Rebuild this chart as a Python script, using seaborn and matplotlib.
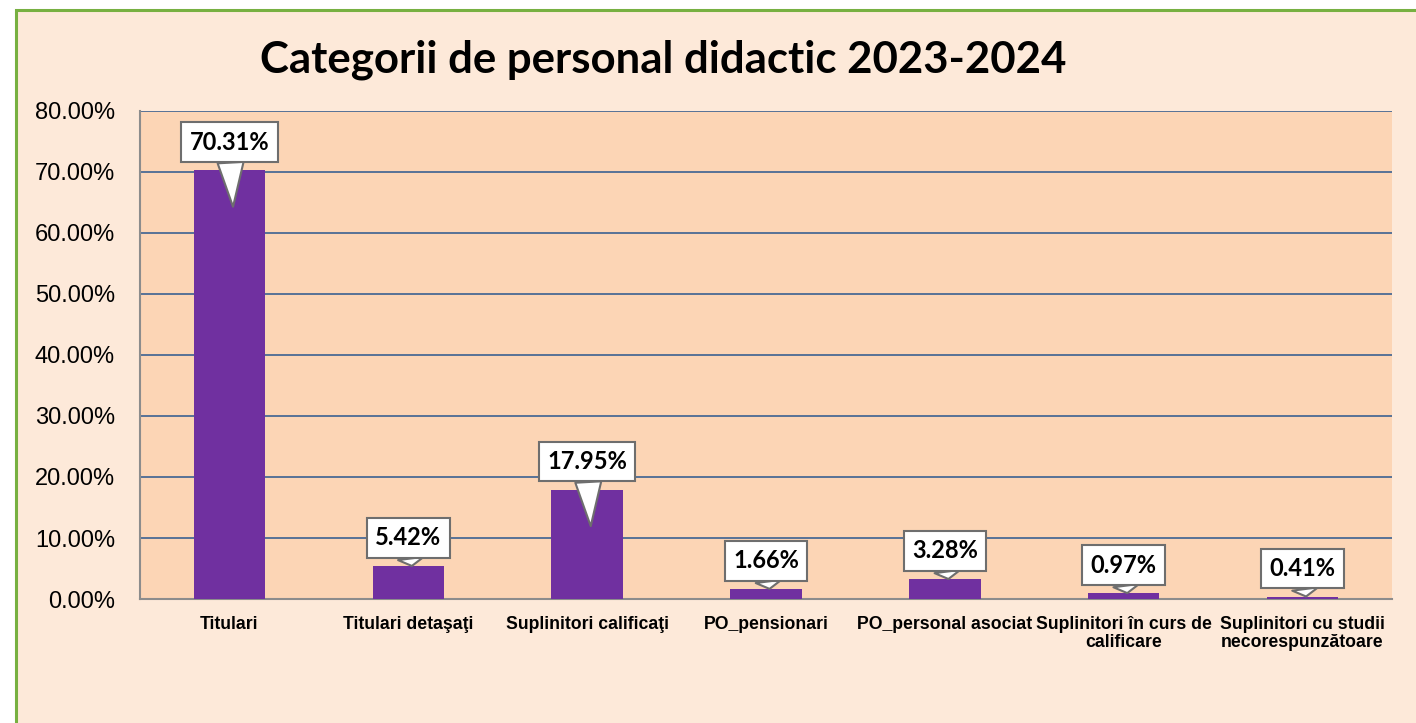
import matplotlib
matplotlib.use("Agg")
import matplotlib.pyplot as plt
from matplotlib.patches import Rectangle
from matplotlib.ticker import FuncFormatter, FixedLocator
import seaborn as sns
import numpy as np

categories = [
    "Titulari",
    "Titulari detaşaţi",
    "Suplinitori calificaţi",
    "PO_pensionari",
    "PO_personal asociat",
    "Suplinitori în curs de\ncalificare",
    "Suplinitori cu studii\nnecorespunzătoare",
]
values = [70.31, 5.42, 17.95, 1.66, 3.28, 0.97, 0.41]
labels = ["70.31%", "5.42%", "17.95%", "1.66%", "3.28%", "0.97%", "0.41%"]
y_ticks = [0, 10, 20, 30, 40, 50, 60, 70, 80]
title = "Categorii de personal didactic 2023-2024"

# how far the callout pointer reaches into the bar (data units)
tip_drop = [6.0, 0, 6.0, 0, 0, 0, 0]

sns.set_style("white")
plt.rcParams['font.family'] = ['Liberation Sans', 'DejaVu Sans']
plt.rcParams['text.color'] = 'black'
plt.rcParams['xtick.color'] = 'black'
plt.rcParams['ytick.color'] = 'black'

fig = plt.figure(figsize=(14.16, 7.23), dpi=100, facecolor="white")
fig.patches.append(Rectangle((0.0113, -0.05), 1.1, 1.036, transform=fig.transFigure,
                             facecolor="#FDE9D9", edgecolor="#77B041", lw=2.2, zorder=-5))

ax = fig.add_axes([0.0989, 0.1715, 0.8841, 0.675])
ax.set_facecolor("#FCD5B5")

sns.barplot(x=categories, y=values, color="#7030A0", saturation=1, width=0.4, ax=ax,
            zorder=3, linewidth=0)

ax.set_ylim(0, 80)
ax.set_xlim(-0.5, len(categories) - 0.5)
ax.set_yticks(y_ticks)
ax.yaxis.set_major_formatter(FuncFormatter(lambda v, p: f"{v:.2f}%"))
ax.grid(axis="y", color="#4A6A94", lw=1.3, zorder=1)
ax.set_axisbelow(True)

for s in ["top", "right"]:
    ax.spines[s].set_visible(False)
for s in ["left", "bottom"]:
    ax.spines[s].set_color("#8C8C8C")
    ax.spines[s].set_linewidth(1.5)

ax.tick_params(axis="y", length=6, width=1.5, color="#8C8C8C", labelsize=17, pad=12)
ax.tick_params(axis="x", which="major", length=0, labelsize=12.7, pad=12)
ax.xaxis.set_minor_locator(FixedLocator(np.arange(-0.5, len(categories), 1.0)))
ax.tick_params(axis="x", which="minor", length=6, width=1.5, color="#8C8C8C")
for t in ax.get_xticklabels():
    t.set_fontweight("bold")
    t.set_linespacing(1.1)
ax.set_xlabel("")
ax.set_ylabel("")

# place each callout box a fixed number of pixels above its bar
to_data = ax.transData.inverted()
for i, (v, lab) in enumerate(zip(values, labels)):
    px, py = ax.transData.transform((i, v))
    _, box_y = to_data.transform((px, py + 28))
    ax.annotate(lab, xy=(i + 0.02, v - tip_drop[i]), xytext=(i, box_y), textcoords="data",
                ha="center", va="center", fontsize=17, fontweight="bold", family="Lato",
                bbox=dict(boxstyle="square,pad=0.35", fc="white", ec="#6E6E6E", lw=1.5),
                arrowprops=dict(arrowstyle="wedge,tail_width=1.1,shrink_factor=0.5",
                                fc="white", ec="#6E6E6E", lw=1.5, shrinkA=0, shrinkB=0),
                zorder=5)

fig.text(0.468, 0.918, title, ha="center", va="center", fontsize=31.5,
         fontweight="bold", family="Lato", color="black")

fig.savefig("out.png", dpi=100, facecolor=fig.get_facecolor())
